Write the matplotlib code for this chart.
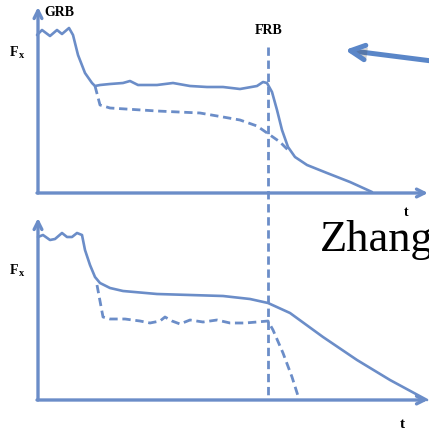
import numpy as np
import matplotlib; matplotlib.use("Agg")
import matplotlib.pyplot as plt
import matplotlib.patheffects as pe

BLUE = "#6b8dc8"
ARROW_BLUE = "#5a86c8"

# canvas coordinates (pixels, y grows downward)
W, H = 429, 434

# upper sketch: plateau then steep decay after the burst
top_solid_x = [37, 42, 50, 57, 62, 69, 73, 78, 85, 92, 95, 100, 110, 123, 130, 138, 157, 173, 190, 207,
               223, 240, 257, 263, 267, 272, 277, 282, 288, 295, 307, 327, 350, 372]
top_solid_y = [35, 30, 36, 30, 34, 28, 35, 55, 73, 83, 86, 85, 84, 83, 81, 85, 85, 83, 86, 87,
               87, 89, 86, 82, 83, 92, 110, 130, 147, 157, 165, 173, 182, 192]
top_dash_x = [95, 100, 110, 157, 200, 223, 240, 257, 270, 280, 290]
top_dash_y = [86, 105, 108, 111, 113, 117, 120, 126, 135, 142, 152]

# lower sketch: smooth plateau, dashed branch collapses after the burst
bot_solid_x = [38, 43, 50, 55, 62, 67, 72, 77, 82, 85, 90, 95, 100, 110, 123, 157, 190, 223, 250, 268,
               290, 323, 357, 390, 427]
bot_solid_y = [237, 235, 240, 239, 233, 237, 237, 233, 235, 250, 265, 277, 283, 288, 291, 294, 295, 296, 299, 303,
               313, 337, 360, 380, 400]
bot_dash_x = [97, 103, 110, 125, 140, 150, 160, 165, 172, 180, 190, 203, 217, 230, 245, 257, 268,
              273, 283, 292, 299]
bot_dash_y = [285, 317, 319, 319, 321, 323, 321, 317, 321, 324, 320, 322, 320, 323, 323, 322, 321,
              330, 353, 377, 399]

frb_x = 268
frb_y = (47, 395)

fig = plt.figure(figsize=(W / 100, H / 100), dpi=100)
ax = fig.add_axes([0, 0, 1, 1])
ax.set_xlim(0, W); ax.set_ylim(H, 0); ax.axis("off")

def axes_arrows(y0, ytip):
    ax.annotate("", xy=(38, ytip), xytext=(38, y0),
                arrowprops=dict(arrowstyle="->", lw=2.4, color=BLUE, mutation_scale=14, shrinkA=0, shrinkB=0))
    ax.annotate("", xy=(428, y0), xytext=(37, y0),
                arrowprops=dict(arrowstyle="->", lw=2.4, color=BLUE, mutation_scale=14, shrinkA=0, shrinkB=0))

axes_arrows(193, 7)
axes_arrows(400, 218)

kw = dict(color=BLUE, lw=1.9, solid_joinstyle="round", solid_capstyle="round")
ax.plot(top_solid_x, top_solid_y, **kw)
ax.plot(bot_solid_x, bot_solid_y, **kw)
dkw = dict(color=BLUE, lw=2.0, dashes=(3, 1.7))
ax.plot(top_dash_x, top_dash_y, **dkw)
ax.plot(bot_dash_x, bot_dash_y, **dkw)
ax.plot([frb_x, frb_x], frb_y, **dkw)

# big pointer arrow with soft shadow
ax.annotate("", xy=(345, 50), xytext=(432, 61),
            arrowprops=dict(arrowstyle="->", lw=3.6, color=ARROW_BLUE, mutation_scale=26, shrinkA=0, shrinkB=0,
                            path_effects=[pe.SimplePatchShadow(offset=(1.5, -1.5), alpha=0.25), pe.Normal()]))

serif = "Liberation Serif"
ax.text(44, 12, "GRB", fontsize=10, fontweight="bold", family=serif, ha="left", va="center")
ax.text(269, 31, "FRB", fontsize=10, fontweight="bold", family=serif, ha="center", va="center")
for fy in (52, 270):
    ax.text(10, fy, "F", fontsize=10, fontweight="bold", family=serif, ha="left", va="center")
    ax.text(19, fy + 3, "x", fontsize=7.5, fontweight="bold", family=serif, ha="left", va="center")
ax.text(406, 213, "t", fontsize=10, fontweight="bold", family=serif, ha="center", va="center")
ax.text(402, 424, "t", fontsize=11, fontweight="bold", family=serif, ha="center", va="center")
ax.text(320, 240, "Zhang", fontsize=32, family=serif, ha="left", va="center", color="black")

fig.savefig("out.png", dpi=100)
